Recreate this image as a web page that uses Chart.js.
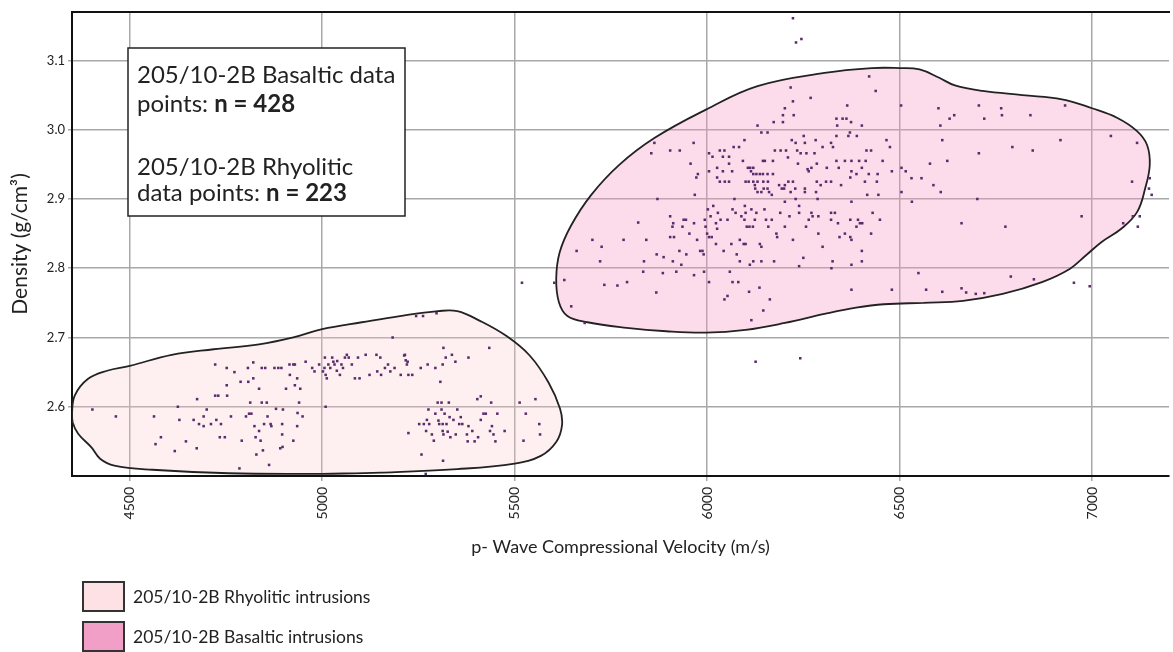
<!DOCTYPE html>
<html>
<head>
<meta charset="utf-8">
<title>Density vs p-Wave Velocity</title>
<script src="https://cdn.jsdelivr.net/npm/chart.js@4.4.1/dist/chart.umd.min.js"></script>
<style>
    html, body { margin: 0; padding: 0; background: #fff; }
</style>
</head>
<body>
<canvas id="density-chart" width="1173" height="652"></canvas>
<script>
// tick labels
var velTicks = [4500, 5000, 5500, 6000, 6500, 7000];
var denTicks = [2.6, 2.7, 2.8, 2.9, 3.0, 3.1];

// outline of the rhyolitic field (m/s, g/cm3)
var rhyoEdgeX = [5000, 4757, 4559, 4460, 4423, 4401, 4366, 4352, 4350, 4357, 4391, 4441, 4500, 4609, 4718, 4836, 4925, 5000,
    5103, 5202, 5301, 5351, 5410, 5479, 5539, 5588, 5618, 5623, 5608, 5568, 5500, 5351, 5153, 5000];
var rhyoEdgeY = [2.503, 2.504, 2.509, 2.515, 2.525, 2.541, 2.561, 2.577, 2.590, 2.616, 2.640, 2.652, 2.659, 2.675, 2.683, 2.690, 2.700, 2.712,
    2.722, 2.731, 2.738, 2.738, 2.724, 2.702, 2.674, 2.635, 2.597, 2.573, 2.549, 2.529, 2.518, 2.510, 2.505, 2.503];

// outline of the basaltic field
var basaltEdgeX = [6562, 6459, 6387, 6305, 6202, 6100, 5997, 5894, 5791, 5689, 5637, 5615, 5608, 5617, 5647, 5699, 5771, 5863,
    5997, 6131, 6305, 6428, 6500, 6552, 6603, 6644, 6716, 6819, 6922, 7000, 7066, 7117, 7143, 7150, 7138, 7117, 7076,
    7025, 6983, 6942, 6870, 6768, 6665, 6562];
var basaltEdgeY = [2.750, 2.748, 2.743, 2.734, 2.721, 2.711, 2.707, 2.709, 2.714, 2.722, 2.731, 2.751, 2.785, 2.823, 2.862, 2.906, 2.949, 2.988,
    3.029, 3.063, 3.082, 3.089, 3.089, 3.087, 3.075, 3.064, 3.056, 3.050, 3.044, 3.031, 3.017, 2.998, 2.978, 2.949, 2.915, 2.881, 2.857,
    2.838, 2.818, 2.799, 2.780, 2.763, 2.753, 2.750];

// rhyolitic samples
var rhyoVel = [4403, 4464, 4563, 4581, 4567, 4625, 4629, 4617, 4646, 4666, 4675, 4674, 4680, 4692, 4700, 4692, 4711, 4722, 4725, 4722,
    4730, 4737, 4734, 4747, 4753, 4752, 4752, 4763, 4772, 4788, 4785, 4791, 4802, 4808, 4807, 4810, 4813, 4816, 4821, 4821,
    4824, 4827, 4829, 4836, 4836, 4840, 4843, 4843, 4846, 4849, 4852, 4856, 4858, 4862, 4866, 4868, 4876, 4880, 4886, 4891,
    4894, 4896, 4896, 4897, 4898, 4906, 4915, 4916, 4925, 4925, 4929, 4929, 4935, 4935, 4940, 4936, 4943, 4949, 4957, 4974,
    4980, 4992, 5002, 5006, 5007, 5009, 5009, 5012, 5016, 5021, 5026, 5029, 5032, 5038, 5039, 5046, 5050, 5054, 5059, 5064,
    5069, 5077, 5085, 5093, 5097, 5113, 5123, 5141, 5151, 5143, 5153, 5163, 5171, 5177, 5183, 5188, 5204, 5215, 5220, 5224,
    5222, 5224, 5234, 5244, 5252, 5256, 5258, 5262, 5264, 5270, 5272, 5274, 5276, 5278, 5285, 5290, 5294, 5294, 5297, 5300,
    5302, 5304, 5307, 5310, 5310, 5313, 5313, 5313, 5314, 5315, 5315, 5318, 5321, 5323, 5326, 5329, 5331, 5333, 5337, 5341,
    5346, 5347, 5351, 5356, 5360, 5364, 5376, 5378, 5380, 5380, 5390, 5396, 5403, 5405, 5412, 5412, 5419, 5425, 5434, 5436,
    5439, 5441, 5445, 5450, 5455, 5474, 5513, 5523, 5529, 5554, 5564, 5566, 5269, 5213, 5217];
var rhyoDen = [2.596, 2.586, 2.586, 2.556, 2.546, 2.600, 2.581, 2.536, 2.550, 2.581, 2.611, 2.540, 2.575, 2.572, 2.596, 2.586, 2.575, 2.661, 2.581, 2.616,
    2.616, 2.575, 2.556, 2.556, 2.616, 2.631, 2.656, 2.586, 2.650, 2.636, 2.511, 2.551, 2.586, 2.636, 2.656, 2.590, 2.606, 2.590, 2.664, 2.641,
    2.572, 2.556, 2.531, 2.626, 2.565, 2.551, 2.656, 2.606, 2.537, 2.575, 2.656, 2.606, 2.586, 2.516, 2.575, 2.572, 2.656, 2.597, 2.656, 2.540,
    2.656, 2.575, 2.560, 2.542, 2.596, 2.626, 2.661, 2.646, 2.661, 2.551, 2.631, 2.661, 2.572, 2.641, 2.606, 2.591, 2.626, 2.586, 2.665, 2.656,
    2.651, 2.661, 2.651, 2.656, 2.671, 2.600, 2.646, 2.641, 2.661, 2.656, 2.671, 2.665, 2.661, 2.652, 2.666, 2.646, 2.661, 2.656, 2.671, 2.675,
    2.671, 2.661, 2.641, 2.671, 2.641, 2.675, 2.646, 2.675, 2.671, 2.651, 2.646, 2.656, 2.661, 2.651, 2.700, 2.656, 2.646, 2.675, 2.661, 2.562,
    2.665, 2.646, 2.646, 2.731, 2.575, 2.656, 2.531, 2.731, 2.575, 2.565, 2.581, 2.661, 2.596, 2.575, 2.560, 2.551, 2.656, 2.590, 2.735, 2.606,
    2.580, 2.575, 2.636, 2.606, 2.596, 2.661, 2.575, 2.565, 2.522, 2.685, 2.560, 2.590, 2.671, 2.575, 2.564, 2.606, 2.585, 2.556, 2.675, 2.581,
    2.665, 2.560, 2.596, 2.575, 2.585, 2.575, 2.560, 2.550, 2.671, 2.572, 2.565, 2.550, 2.611, 2.556, 2.615, 2.581, 2.590, 2.590, 2.685, 2.565,
    2.606, 2.572, 2.560, 2.550, 2.590, 2.565, 2.606, 2.551, 2.590, 2.611, 2.575, 2.560, 2.503, 2.674, 2.667];

// basaltic samples
var basaltVel = [5519, 5603, 5629, 5647, 5682, 6223, 6231, 6245, 6421, 6438, 6217, 6269, 6223, 6202, 6197, 6225, 6364, 6504, 6601, 6706,
    6764, 6766, 6840, 6930, 6642, 6630, 6606, 6720, 6173, 6197, 6131, 6141, 6157, 6336, 6352, 6362, 6338, 6374, 6402, 6371,
    6389, 6367, 6336, 5863, 5855, 5904, 5929, 5965, 6097, 6069, 6083, 6005, 6033, 6045, 6014, 6041, 6057, 6220, 6230, 6251,
    6254, 6282, 6300, 6322, 6327, 6210, 6176, 6191, 6205, 6234, 6243, 6258, 6279, 6236, 6261, 6271, 6285, 6311, 6336, 6342,
    6358, 6375, 6395, 6402, 6412, 6414, 6426, 6456, 6466, 6475, 6480, 6505, 6516, 6531, 6557, 6579, 6624, 6611, 6588, 6607,
    6505, 6532, 6706, 6793, 6846, 6918, 7049, 7117, 7104, 7150, 7148, 7155, 6702, 6973, 7081, 7106, 7124, 7119, 6775, 6661,
    6953, 6994, 6789, 6849, 6549, 6569, 6611, 6661, 6673, 6698, 6720, 6480, 6375, 6242, 6126, 6115, 6146, 6163, 6045, 6053,
    6136, 6109, 6066, 6081, 6005, 6059, 5966, 5992, 5920, 5885, 5868, 5834, 5792, 5767, 5733, 5661, 5722, 5702, 5726, 5783,
    5821, 5842, 5836, 5869, 5887, 5911, 5933, 5928, 5946, 5954, 5904, 5912, 5910, 5939, 5945, 5966, 5936, 5904, 5914, 5974,
    5982, 5988, 5991, 5996, 5994, 6000, 6005, 6002, 6016, 6028, 6023, 6026, 6009, 6012, 6023, 6035, 6043, 6053, 6066, 6063,
    6074, 6077, 6085, 6085, 6089, 6095, 6100, 6098, 6100, 6097, 6103, 6110, 6115, 6119, 6111, 6120, 6124, 6128, 6137, 6141,
    6141, 6149, 6153, 6159, 6168, 6174, 6180, 6182, 6190, 6202, 6202, 6214, 6223, 6239, 6239, 6250, 6239, 6257, 6264, 6274,
    6271, 6289, 6289, 6300, 6322, 6332, 6322, 6326, 6323, 6340, 6344, 6358, 6372, 6372, 6375, 6375, 6388, 6392, 6397, 6403,
    6402, 6402, 6426, 6430, 6449, 6106, 6112, 6120, 6114, 6120, 6128, 6137, 6145, 6157, 6171, 6145, 6150, 6171, 6100, 6108,
    6120, 6131, 6146, 6158, 6124, 6125, 6131, 6141, 6147, 6157, 6161, 6168, 6187, 6194, 6202, 6200, 6211, 6223, 6229, 6217,
    6254, 6254, 6283, 6264, 6285, 6295, 6309, 6322, 6348, 6372, 6375, 6388, 6410, 6420, 6441, 6443, 6416, 6445, 6375, 6287,
    6230, 6071, 6033, 6046, 6057, 6026, 5976, 5972, 5957, 6005, 6026, 6041, 6065, 6093, 6057, 5968, 5871];
var basaltDen = [2.779, 2.779, 2.783, 2.745, 2.721, 3.161, 3.126, 3.131, 3.077, 3.056, 3.061, 3.046, 3.041, 3.031, 3.021, 3.021, 3.035, 3.035, 3.031, 3.035,
    3.031, 3.021, 3.021, 3.035, 3.021, 3.016, 3.006, 3.016, 3.011, 3.011, 3.006, 2.996, 2.996, 3.016, 3.016, 3.016, 3.006, 3.011, 3.006, 2.996,
    2.991, 2.991, 2.991, 2.981, 2.966, 2.970, 2.970, 2.981, 2.985, 2.975, 2.975, 2.966, 2.970, 2.970, 2.961, 2.961, 2.961, 2.985, 2.981, 2.991,
    2.981, 2.985, 2.975, 2.981, 2.975, 2.960, 2.970, 2.970, 2.970, 2.970, 2.966, 2.966, 2.966, 2.951, 2.943, 2.945, 2.951, 2.945, 2.955, 2.945,
    2.955, 2.955, 2.955, 2.945, 2.955, 2.970, 2.970, 2.955, 2.985, 2.975, 2.940, 2.945, 2.940, 2.930, 2.930, 2.951, 2.955, 2.985, 2.920, 2.910,
    2.910, 2.896, 2.966, 2.975, 2.970, 2.985, 2.991, 2.981, 2.925, 2.930, 2.915, 2.906, 2.900, 2.875, 2.865, 2.875, 2.875, 2.860, 2.860, 2.865,
    2.779, 2.774, 2.788, 2.784, 2.793, 2.769, 2.766, 2.771, 2.765, 2.763, 2.764, 2.769, 2.769, 2.670, 2.665, 2.725, 2.739, 2.755, 2.755, 2.760,
    2.772, 2.766, 2.780, 2.780, 2.780, 2.795, 2.790, 2.795, 2.795, 2.793, 2.765, 2.795, 2.780, 2.775, 2.776, 2.825, 2.810, 2.841, 2.831, 2.841,
    2.866, 2.841, 2.810, 2.820, 2.816, 2.810, 2.805, 2.825, 2.820, 2.850, 2.875, 2.865, 2.860, 2.870, 2.870, 2.865, 2.860, 2.845, 2.845, 2.841,
    2.825, 2.825, 2.820, 2.860, 2.870, 2.850, 2.845, 2.885, 2.890, 2.880, 2.865, 2.857, 2.875, 2.845, 2.835, 2.870, 2.825, 2.870, 2.885, 2.835,
    2.880, 2.820, 2.841, 2.810, 2.875, 2.835, 2.835, 2.890, 2.880, 2.870, 2.860, 2.860, 2.885, 2.860, 2.805, 2.810, 2.870, 2.880, 2.835, 2.831,
    2.810, 2.885, 2.870, 2.860, 2.870, 2.810, 2.850, 2.845, 2.880, 2.860, 2.896, 2.875, 2.841, 2.880, 2.890, 2.815, 2.803, 2.860, 2.870, 2.875,
    2.880, 2.875, 2.850, 2.831, 2.880, 2.880, 2.870, 2.810, 2.800, 2.865, 2.845, 2.850, 2.870, 2.845, 2.841, 2.805, 2.860, 2.870, 2.865, 2.865,
    2.825, 2.810, 2.850, 2.880, 2.870, 2.945, 2.945, 2.945, 2.940, 2.936, 2.936, 2.936, 2.936, 2.936, 2.936, 2.955, 2.955, 2.955, 2.925, 2.925,
    2.925, 2.925, 2.925, 2.925, 2.920, 2.915, 2.910, 2.910, 2.915, 2.915, 2.910, 2.906, 2.920, 2.915, 2.920, 2.915, 2.925, 2.925, 2.915, 2.910,
    2.915, 2.910, 2.910, 2.940, 2.925, 2.920, 2.925, 2.925, 2.920, 2.931, 2.940, 2.936, 2.925, 2.936, 2.925, 2.936, 2.906, 2.906, 2.896, 2.900,
    2.900, 2.900, 2.925, 2.925, 2.925, 2.931, 2.936, 2.931, 2.951, 2.940, 2.945, 2.940, 2.940, 2.955, 2.951, 2.906, 2.900];

var legendNames = ['205/10-2B Rhyolitic intrusions', '205/10-2B Basaltic intrusions'];

function toPoints(xs, ys) {
    var pts = [];
    for (var i = 0; i < xs.length; i++) {
        pts.push({ x: xs[i], y: ys[i] });
    }
    return pts;
}

var fontFamily = 'Lato, "Open Sans", sans-serif';
var textColor = '#222';
var gridColor = '#a8a8a8';

// text box in the upper left corner
var noteBox = {
    id: 'noteBox',
    afterDatasetsDraw: function (chart) {
        var ctx = chart.ctx;
        ctx.save();
        ctx.fillStyle = '#fff';
        ctx.fillRect(128, 48, 277, 168);
        ctx.strokeStyle = '#222';
        ctx.lineWidth = 1.5;
        ctx.strokeRect(128, 48, 277, 168);

        var lines = [
            [['205/10-2B Basaltic data', false]],
            [['points: ', false], ['n = 428', true]],
            [['205/10-2B Rhyolitic', false]],
            [['data points: ', false], ['n = 223', true]]
        ];
        var baselines = [83, 112, 175, 201];
        ctx.fillStyle = textColor;
        ctx.textBaseline = 'alphabetic';
        ctx.textAlign = 'left';
        lines.forEach(function (runs, i) {
            var x = 137;
            runs.forEach(function (r) {
                ctx.font = (r[1] ? 'bold ' : '') + '24px ' + fontFamily;
                ctx.fillText(r[0], x, baselines[i]);
                x += ctx.measureText(r[0]).width;
            });
        });
        ctx.restore();
    }
};

// legend below the chart, one entry per row
var boxLegend = {
    id: 'boxLegend',
    afterDraw: function (chart) {
        var ctx = chart.ctx;
        var colors = ['#fde1e4', '#f19fc6'];
        ctx.save();
        ctx.font = '17.5px ' + fontFamily;
        ctx.textBaseline = 'middle';
        legendNames.forEach(function (name, i) {
            var top = 582 + i * 40;
            ctx.fillStyle = colors[i];
            ctx.fillRect(83, top, 41, 29);
            ctx.strokeStyle = '#333';
            ctx.lineWidth = 2;
            ctx.strokeRect(83, top, 41, 29);
            ctx.fillStyle = textColor;
            ctx.fillText(name, 133, top + 15);
        });
        ctx.restore();
    }
};

var ctx = document.getElementById('density-chart');
var chart = new Chart(ctx, {
    type: 'scatter',
    data: {
        datasets: [
            {
                label: 'Rhyolitic points',
                data: toPoints(rhyoVel, rhyoDen),
                pointStyle: 'rect',
                pointRadius: 1.8,
                backgroundColor: '#5a2c6c',
                borderWidth: 0,
                order: 1
            },
            {
                label: 'Basaltic points',
                data: toPoints(basaltVel, basaltDen),
                pointStyle: 'rect',
                pointRadius: 1.8,
                backgroundColor: '#5a2c6c',
                borderWidth: 0,
                order: 1
            },
            {
                type: 'line',
                label: legendNames[0],
                data: toPoints(rhyoEdgeX, rhyoEdgeY),
                borderColor: '#222',
                borderWidth: 1.8,
                backgroundColor: 'rgba(250, 200, 205, 0.27)',
                fill: 'shape',
                tension: 0.4,
                pointRadius: 0,
                order: 2
            },
            {
                type: 'line',
                label: legendNames[1],
                data: toPoints(basaltEdgeX, basaltEdgeY),
                borderColor: '#222',
                borderWidth: 1.8,
                backgroundColor: 'rgba(245, 150, 195, 0.34)',
                fill: 'shape',
                tension: 0.4,
                pointRadius: 0,
                order: 2
            }
        ]
    },
    options: {
        responsive: false,
        animation: false,
        events: [],
        layout: {
            padding: { left: 0, right: 0, top: 0, bottom: 86 }
        },
        plugins: {
            legend: { display: false },
            tooltip: { enabled: false }
        },
        scales: {
            x: {
                type: 'linear',
                position: 'bottom',
                min: 4350,
                max: 7200,
                afterBuildTicks: function (scale) {
                    scale.ticks = velTicks.map(function (v) { return { value: v }; });
                },
                afterFit: function (scale) { scale.height = 90; },
                ticks: {
                    minRotation: 90,
                    maxRotation: 90,
                    padding: 6,
                    color: textColor,
                    font: { family: fontFamily, size: 14 },
                    callback: function (v) { return String(v); }
                },
                grid: { color: gridColor, lineWidth: 1.5, tickLength: 5 },
                border: { color: '#111', width: 2 },
                title: {
                    display: true,
                    text: 'p- Wave Compressional Velocity (m/s)',
                    color: textColor,
                    font: { family: fontFamily, size: 18 },
                    padding: { top: 0, bottom: 8 }
                }
            },
            xTop: {
                type: 'linear',
                position: 'top',
                min: 4350,
                max: 7200,
                afterFit: function (scale) { scale.height = 12; },
                ticks: { display: false },
                grid: { display: false },
                border: { color: '#111', width: 2 }
            },
            y: {
                type: 'linear',
                min: 2.5,
                max: 3.17,
                afterBuildTicks: function (scale) {
                    scale.ticks = denTicks.map(function (v) { return { value: v }; });
                },
                afterFit: function (scale) { scale.width = 72; },
                ticks: {
                    padding: 3,
                    color: textColor,
                    font: { family: fontFamily, size: 13 },
                    callback: function (v) { return Number(v).toFixed(1); }
                },
                grid: { color: gridColor, lineWidth: 1.5, tickLength: 4 },
                border: { color: '#111', width: 2 },
                title: {
                    display: true,
                    text: 'Density (g/cm³)',
                    color: textColor,
                    font: { family: fontFamily, size: 21 },
                    padding: { top: 8, bottom: 0 }
                }
            }
        }
    },
    plugins: [noteBox, boxLegend]
});
</script>
</body>
</html>
